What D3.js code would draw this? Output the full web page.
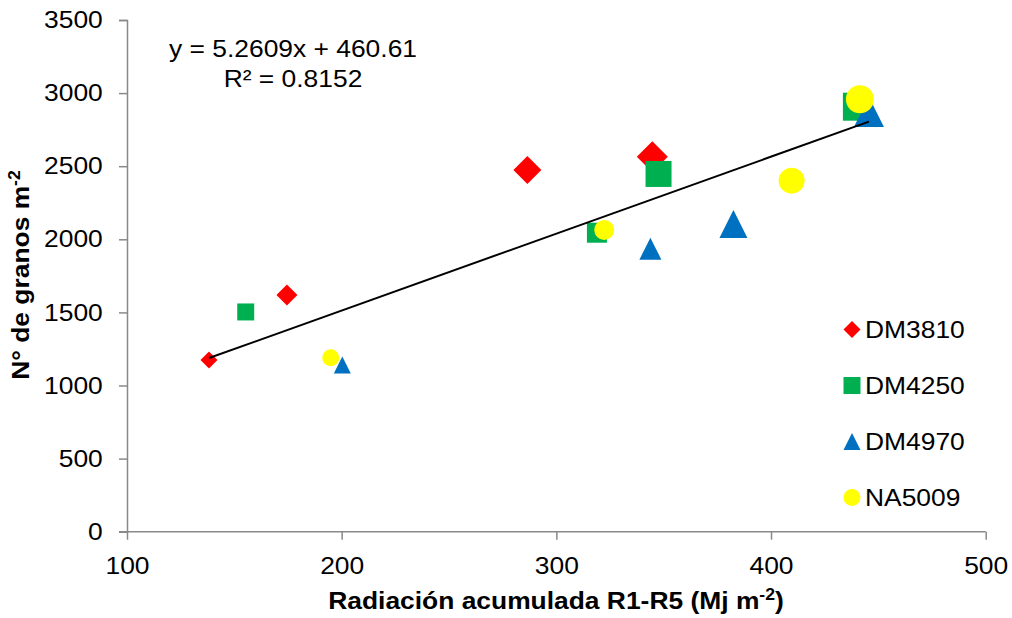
<!DOCTYPE html>
<html>
<head>
<meta charset="utf-8">
<script src="https://cdn.jsdelivr.net/npm/d3@7"></script>
<style>
  body { margin: 0; background: #fff; }
  text { font-family: "Liberation Sans", Arial, sans-serif; fill: #000; }
</style>
</head>
<body>
<div id="chart"></div>
<script>
const width = 1012;
const height = 618;

// data
const seriesNames = ["DM3810", "DM4250", "DM4970", "NA5009"];
const dm3810X = [138.2, 174.5, 286.5, 344.7];
const dm3810Y = [1174, 1619, 2474, 2565];
const dm4250X = [155.3, 318.9, 347.6, 440.0];
const dm4250Y = [1503, 2045, 2447, 2907];
const dm4970X = [200.3, 343.8, 382.5, 445.6];
const dm4970Y = [1140, 1936, 2105, 2871];
const na5009X = [194.9, 322.3, 409.6, 441.4];
const na5009Y = [1190, 2064, 2401, 2958];

const xTicks = [100, 200, 300, 400, 500];
const yTicks = [0, 500, 1000, 1500, 2000, 2500, 3000, 3500];

// trend line from the chart
const slope = 5.2609;
const intercept = 460.61;
const r2 = 0.8152;

// marker sizes (px) per point, they grow in the original
const markerSizes = [
  [17, 21, 28, 31],
  [17, 20, 26, 28],
  [17, 22, 28, 30],
  [17, 20, 26, 28]
];
const colors = ["#FF0000", "#00B050", "#0070C0", "#FFFF00"];
const shapes = ["diamond", "square", "triangle", "circle"];

const series = [
  { xs: dm3810X, ys: dm3810Y },
  { xs: dm4250X, ys: dm4250Y },
  { xs: dm4970X, ys: dm4970Y },
  { xs: na5009X, ys: na5009Y }
].map((s, i) => ({
  name: seriesNames[i],
  color: colors[i],
  shape: shapes[i],
  points: s.xs.map((v, j) => ({ x: v, y: s.ys[j], size: markerSizes[i][j] }))
}));

const svg = d3.select('#chart').append('svg')
  .attr('width', width)
  .attr('height', height);

const xScale = d3.scaleLinear().domain([100, 500]).range([127, 985.7]);
const yScale = d3.scaleLinear().domain([0, 3500]).range([531.7, 20]);

// marker path centred on 0,0
function shapePath(shape, s) {
  const h = s / 2;
  if (shape === "diamond") return `M0,${-h}L${h},0L0,${h}L${-h},0Z`;
  if (shape === "square") return `M${-h},${-h}H${h}V${h}H${-h}Z`;
  if (shape === "triangle") return `M0,${-h}L${h},${h}L${-h},${h}Z`;
  return d3.arc()({ innerRadius: 0, outerRadius: h, startAngle: 0, endAngle: 2 * Math.PI });
}

// the original text is a bit wider than Arial, so stretch it sideways
const axisColor = "#898989";
const fontSize = 24;
const stretch = 1.1;

const yAxis = svg.append('g')
  .attr('transform', `translate(${xScale(100)},0)`)
  .call(d3.axisLeft(yScale).tickValues(yTicks).tickSize(8).tickPadding(14).tickFormat(d3.format('d')));

const xAxis = svg.append('g')
  .attr('transform', `translate(0,${yScale(0)})`)
  .call(d3.axisBottom(xScale).tickValues(xTicks).tickSize(8).tickPadding(17).tickFormat(d3.format('d')));

[xAxis, yAxis].forEach(a => {
  a.select('.domain').attr('stroke', axisColor).attr('stroke-width', 1.5);
  a.selectAll('.tick line').attr('stroke', axisColor).attr('stroke-width', 1.5);
  a.selectAll('.tick text')
    .attr('font-size', fontSize)
    .attr('font-family', '"Liberation Sans", Arial, sans-serif')
    .attr('fill', '#000')
    .attr('transform', `scale(${stretch},1)`);
});
// the x axis line reaches out to the left tick of zero
xAxis.select('.domain').attr('d', `M${xScale(100) - 8},0H${xScale(500)}`);

// points
series.forEach(s => {
  svg.append('g').selectAll('path').data(s.points)
    .enter().append('path')
    .attr('d', d => shapePath(s.shape, d.size))
    .attr('transform', d => `translate(${xScale(d.x)},${yScale(d.y)})`)
    .attr('fill', s.color);
});

// linear trend line over the range of the data
const allX = series.flatMap(s => s.points.map(p => p.x));
const xMin = d3.min(allX);
const xMax = d3.max(allX);
svg.append('line')
  .attr('x1', xScale(xMin)).attr('y1', yScale(slope * xMin + intercept))
  .attr('x2', xScale(xMax)).attr('y2', yScale(slope * xMax + intercept))
  .attr('stroke', '#000')
  .attr('stroke-width', 2);

// equation label
const eq = svg.append('text')
  .attr('transform', `translate(293,56.7) scale(${stretch},1)`)
  .attr('text-anchor', 'middle')
  .attr('font-size', fontSize);
eq.append('tspan').attr('x', 0).text(`y = ${slope}x + ${intercept}`);
eq.append('tspan').attr('x', 0).attr('dy', 30.6).text(`R² = ${r2}`);

// axis titles
const xTitle = svg.append('text')
  .attr('transform', `translate(556,609) scale(${stretch},1)`)
  .attr('text-anchor', 'middle')
  .attr('font-size', fontSize)
  .attr('font-weight', 'bold');
xTitle.append('tspan').text('Radiación acumulada R1-R5 (Mj m');
xTitle.append('tspan').attr('font-size', 16).attr('dy', -9).text('-2');
xTitle.append('tspan').attr('dy', 9).text(')');

const yTitle = svg.append('text')
  .attr('transform', `translate(29,275) rotate(-90) scale(${stretch},1)`)
  .attr('text-anchor', 'middle')
  .attr('font-size', fontSize)
  .attr('font-weight', 'bold');
yTitle.append('tspan').text('N° de granos m');
yTitle.append('tspan').attr('font-size', 16).attr('dy', -9).text('-2');

// legend
const legend = svg.append('g').selectAll('g').data(series)
  .enter().append('g')
  .attr('transform', (d, i) => `translate(852,${329.5 + i * 56})`);
legend.append('path')
  .attr('d', d => shapePath(d.shape, 17))
  .attr('fill', d => d.color);
legend.append('text')
  .attr('transform', `translate(13,8) scale(${stretch},1)`)
  .attr('font-size', fontSize)
  .text(d => d.name);
</script>
</body>
</html>
